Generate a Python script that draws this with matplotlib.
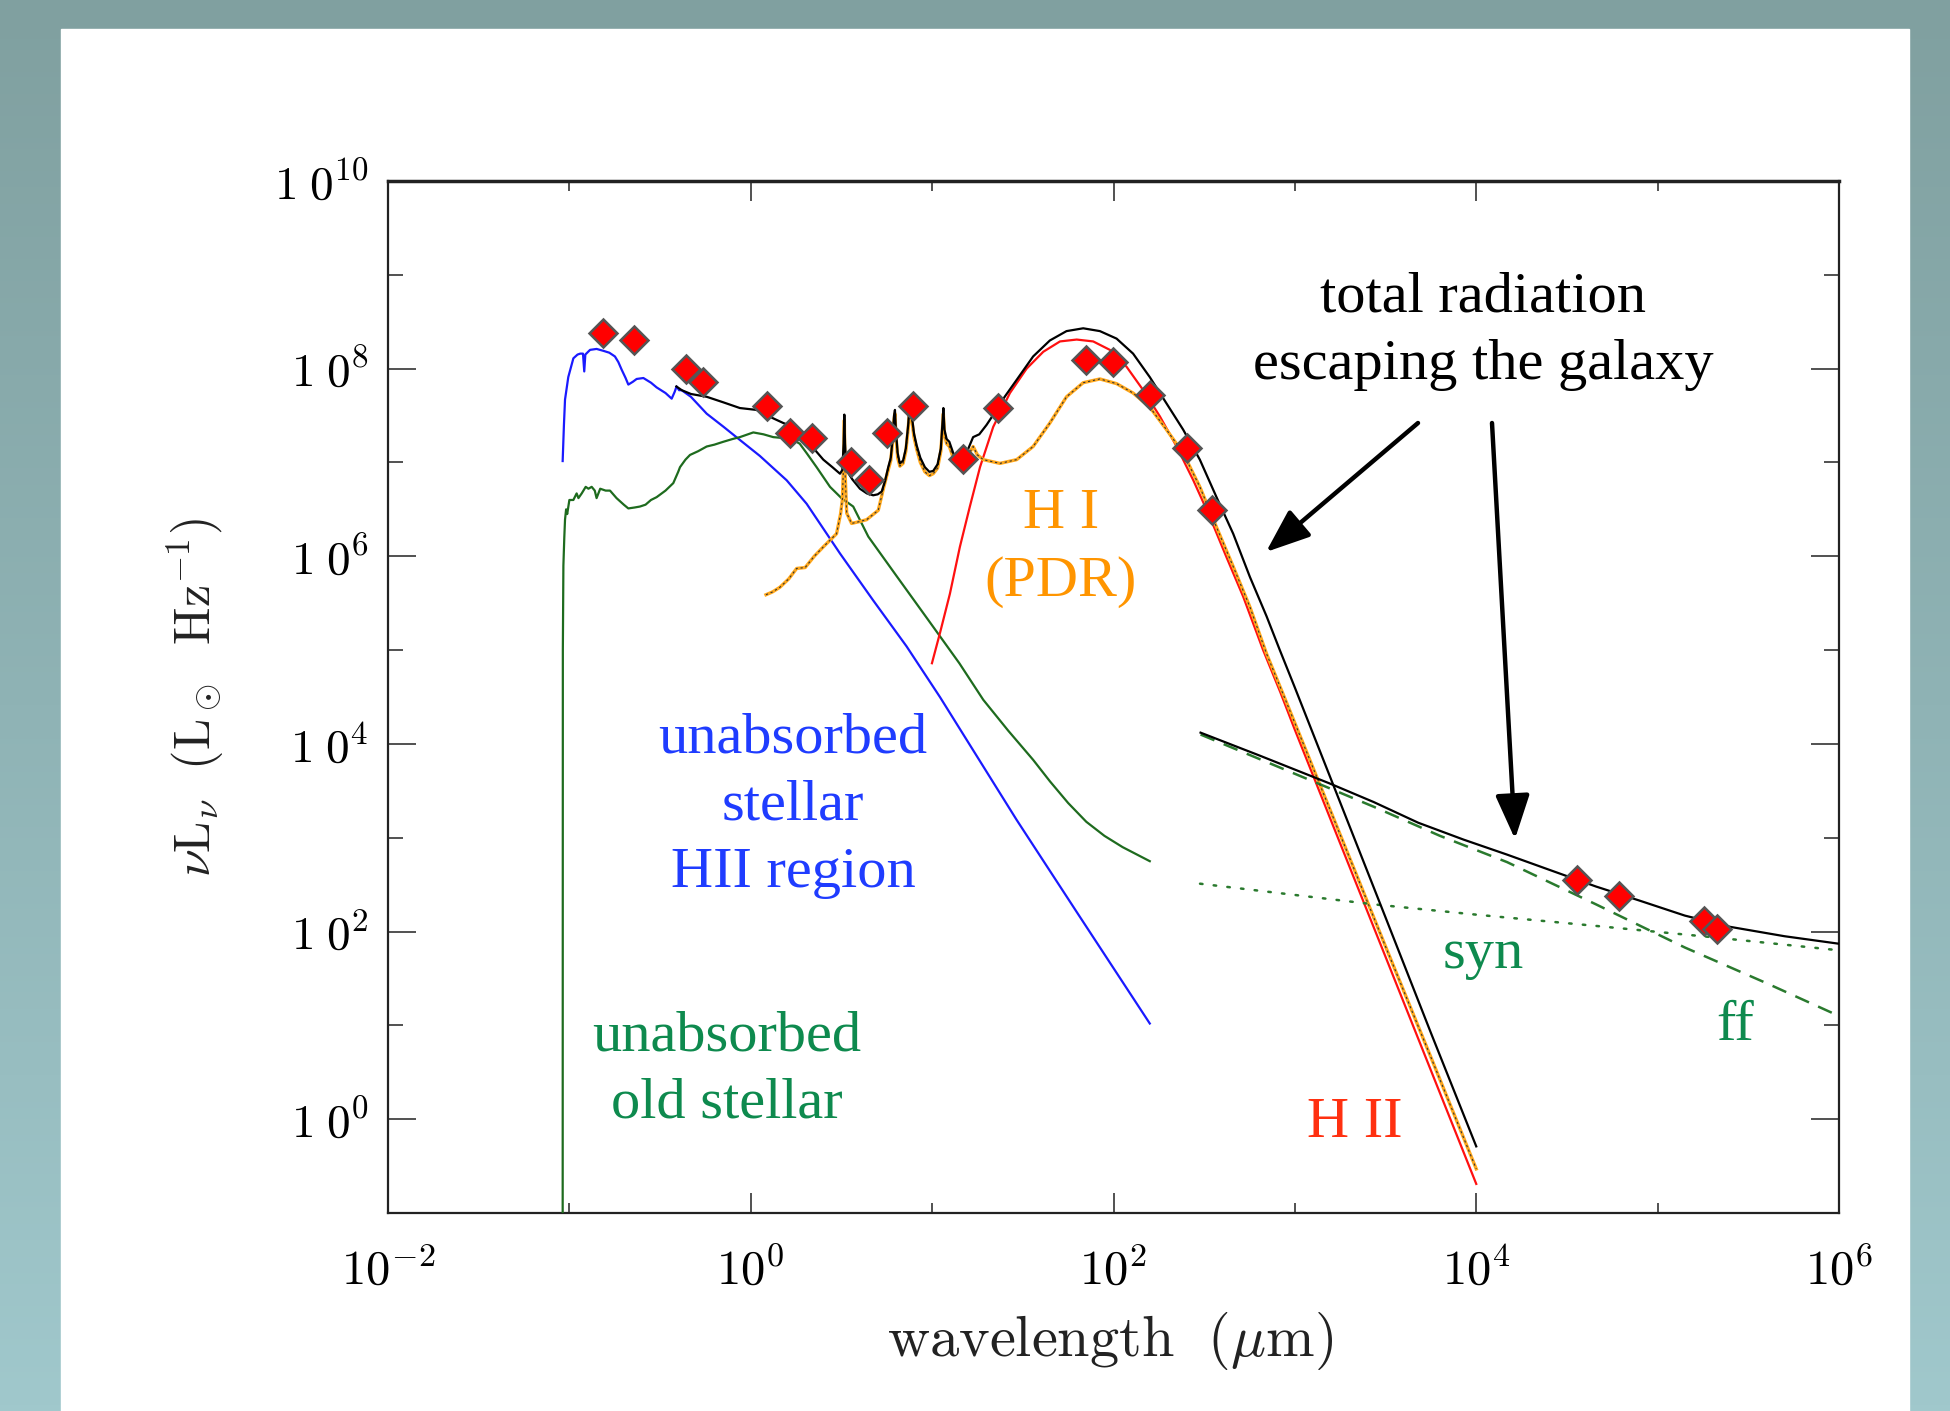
import numpy as np
import matplotlib
matplotlib.use("Agg")
import matplotlib.pyplot as plt
from matplotlib.ticker import FixedLocator, FuncFormatter, NullFormatter
from matplotlib.patches import Rectangle
from matplotlib.colors import LinearSegmentedColormap

plt.rcParams["mathtext.fontset"] = "cm"

# ---------------- data: log10(wavelength / micron), log10(nu L_nu / Lsun Hz^-1)
blue_loglam = [-1.037, -1.030, -1.024, -1.006, -0.978, -0.955, -0.940, -0.925, -0.918, -0.912,
               -0.886, -0.850, -0.813, -0.780, -0.749, -0.730, -0.712, -0.690, -0.675, -0.650,
               -0.629, -0.592, -0.550, -0.519, -0.470, -0.436, -0.420, -0.409, -0.395, -0.381,
               -0.330, -0.243, -0.150, -0.060, 0.050, 0.198, 0.308, 0.492, 0.675, 0.859,
               1.043, 1.466, 1.800, 2.200]
blue_logL = [7.015, 7.40, 7.67, 7.91, 8.11, 8.15, 8.16, 8.16, 7.97, 8.15,
             8.20, 8.21, 8.19, 8.17, 8.13, 8.07, 7.99, 7.90, 7.83, 7.86,
             7.89, 7.90, 7.85, 7.80, 7.74, 7.68, 7.75, 7.81, 7.77, 7.77,
             7.70, 7.52, 7.38, 7.24, 7.07, 6.81, 6.56, 6.03, 5.53, 5.04,
             4.50, 3.19, 2.20, 1.02]

green_loglam = [-1.037, -1.036, -1.033, -1.028, -1.024, -1.018, -1.012, -1.000, -0.978, -0.960,
                -0.950, -0.932, -0.910, -0.895, -0.877, -0.860, -0.850, -0.830, -0.800, -0.776,
                -0.740, -0.700, -0.675, -0.640, -0.611, -0.580, -0.550, -0.519, -0.470, -0.427,
                -0.400, -0.390, -0.360, -0.335, -0.290, -0.243, -0.200, -0.152, -0.100, -0.060,
                0.014, 0.070, 0.124, 0.180, 0.234, 0.270, 0.308, 0.363, 0.437, 0.500,
                0.565, 0.648, 0.800, 0.979, 1.150, 1.282, 1.420, 1.557, 1.650, 1.750,
                1.850, 1.950, 2.050, 2.200]
green_logL = [-1.50, 5.00, 5.90, 6.20, 6.39, 6.50, 6.45, 6.60, 6.60, 6.67,
              6.62, 6.67, 6.74, 6.72, 6.74, 6.70, 6.62, 6.72, 6.70, 6.70,
              6.62, 6.55, 6.51, 6.52, 6.53, 6.55, 6.60, 6.63, 6.70, 6.78,
              6.90, 6.95, 7.03, 7.08, 7.12, 7.17, 7.19, 7.22, 7.25, 7.27,
              7.32, 7.30, 7.27, 7.26, 7.24, 7.20, 7.10, 6.95, 6.74, 6.62,
              6.53, 6.21, 5.80, 5.32, 4.86, 4.47, 4.14, 3.83, 3.60, 3.37,
              3.17, 3.02, 2.90, 2.75]

hi_loglam = [0.084, 0.120, 0.161, 0.210, 0.253, 0.300, 0.350, 0.400, 0.473, 0.495,
             0.505, 0.512, 0.516, 0.520, 0.529, 0.556, 0.600, 0.639, 0.703, 0.730,
             0.758, 0.772, 0.782, 0.790, 0.795, 0.800, 0.810, 0.822, 0.840, 0.855,
             0.868, 0.878, 0.888, 0.900, 0.915, 0.935, 0.960, 0.985, 1.006, 1.030,
             1.048, 1.058, 1.062, 1.068, 1.080, 1.095, 1.120, 1.153, 1.171, 1.200,
             1.226, 1.250, 1.282, 1.374, 1.466, 1.557, 1.649, 1.741, 1.833, 1.925,
             2.017, 2.108, 2.200, 2.292, 2.384, 2.476, 2.568, 2.660, 2.752, 2.844,
             2.950, 3.200, 3.500, 3.750, 4.000]
hi_logL = [5.59, 5.62, 5.67, 5.76, 5.87, 5.88, 6.00, 6.10, 6.24, 6.45,
           6.60, 7.00, 7.45, 6.90, 6.46, 6.35, 6.37, 6.39, 6.49, 6.71,
           6.92, 7.02, 7.22, 7.46, 7.52, 7.30, 7.05, 6.96, 6.99, 7.12,
           7.36, 7.62, 7.45, 7.27, 7.14, 7.00, 6.90, 6.86, 6.88, 6.94,
           7.12, 7.40, 7.52, 7.30, 7.20, 7.17, 7.03, 6.97, 7.00, 7.08,
           7.17, 7.08, 7.03, 6.99, 7.03, 7.17, 7.42, 7.70, 7.85, 7.89,
           7.84, 7.74, 7.59, 7.35, 7.10, 6.74, 6.31, 5.89, 5.46, 4.96,
           4.46, 3.27, 1.84, 0.66, -0.53]

hii_loglam = [0.999, 1.043, 1.098, 1.153, 1.208, 1.264, 1.337, 1.429, 1.521, 1.613,
              1.705, 1.797, 1.888, 1.980, 2.072, 2.164, 2.256, 2.348, 2.440, 2.531,
              2.623, 2.715, 2.825, 2.920, 3.000, 3.200, 3.500, 3.750, 4.000]
hii_logL = [4.86, 5.18, 5.60, 6.10, 6.53, 6.95, 7.38, 7.74, 8.00, 8.18,
            8.29, 8.31, 8.29, 8.20, 8.02, 7.77, 7.49, 7.17, 6.81, 6.42,
            5.99, 5.57, 5.00, 4.55, 4.15, 3.18, 1.73, 0.52, -0.69]

total_loglam = [-0.410, -0.380, -0.330, -0.243, -0.150, -0.060, 0.032, 0.124, 0.180, 0.234,
                0.270, 0.308, 0.360, 0.400, 0.450, 0.492, 0.505, 0.512, 0.516, 0.520,
                0.527, 0.560, 0.602, 0.640, 0.675, 0.700, 0.722, 0.740, 0.758, 0.772,
                0.782, 0.790, 0.795, 0.800, 0.810, 0.822, 0.840, 0.855, 0.868, 0.878,
                0.888, 0.900, 0.915, 0.935, 0.960, 0.985, 1.006, 1.030, 1.048, 1.058,
                1.062, 1.068, 1.080, 1.095, 1.120, 1.153, 1.180, 1.200, 1.226, 1.260,
                1.300, 1.355, 1.400, 1.466, 1.557, 1.649, 1.741, 1.833, 1.925, 2.017,
                2.108, 2.200, 2.292, 2.384, 2.476, 2.568, 2.660, 2.752, 2.844, 2.917,
                3.000, 3.200, 3.500, 3.750, 4.000]
total_logL = [7.81, 7.77, 7.73, 7.70, 7.64, 7.58, 7.56, 7.47, 7.42, 7.38,
              7.33, 7.26, 7.12, 7.03, 6.95, 6.88, 6.92, 7.20, 7.51, 7.20,
              6.92, 6.82, 6.72, 6.67, 6.65, 6.66, 6.69, 6.80, 6.95, 7.05,
              7.25, 7.50, 7.56, 7.35, 7.10, 6.99, 7.02, 7.15, 7.40, 7.67,
              7.50, 7.31, 7.18, 7.05, 6.95, 6.90, 6.91, 6.98, 7.15, 7.45,
              7.58, 7.35, 7.25, 7.22, 7.08, 7.01, 7.06, 7.15, 7.27, 7.30,
              7.40, 7.56, 7.70, 7.88, 8.13, 8.30, 8.40, 8.43, 8.40, 8.32,
              8.16, 7.91, 7.63, 7.35, 7.03, 6.63, 6.24, 5.78, 5.36, 5.00,
              4.60, 3.62, 2.15, 0.92, -0.29]

radio_loglam = [2.48, 2.80, 3.19, 3.435, 3.68, 3.93, 4.17, 4.40, 4.66, 4.90, 5.15, 5.40, 5.70, 6.00]
radio_logL = [4.12, 3.88, 3.58, 3.38, 3.16, 2.98, 2.82, 2.66, 2.48, 2.33, 2.17, 2.05, 1.95, 1.87]

ff_loglam = [2.48, 2.94, 3.435, 3.80, 4.17, 4.66, 5.15, 5.60, 6.00]
ff_logL = [4.10, 3.73, 3.33, 3.02, 2.74, 2.29, 1.83, 1.45, 1.10]

syn_loglam = [2.477, 3.00, 3.435, 4.00, 4.66, 5.30, 6.00]
syn_logL = [2.51, 2.39, 2.29, 2.18, 2.06, 1.94, 1.80]

obs_loglam = [-0.816, -0.642, -0.359, -0.262, 0.088, 0.216, 0.336, 0.551, 0.653, 0.749,
              0.896, 1.171, 1.364, 1.846, 1.998, 2.200, 2.403, 2.541, 4.553, 4.786,
              5.253, 5.327]
obs_logL = [8.38, 8.30, 8.00, 7.86, 7.60, 7.31, 7.26, 7.01, 6.81, 7.31,
            7.60, 7.04, 7.58, 8.09, 8.07, 7.72, 7.15, 6.49, 2.55, 2.38,
            2.11, 2.03]

x_major = [-2, 0, 2, 4, 6]
x_minor = [-1, 1, 3, 5]
y_major = [0, 2, 4, 6, 8, 10]
y_minor = [1, 3, 5, 7, 9]


def p(a):
    return 10.0 ** np.asarray(a, dtype=float)


# ---------------- figure
W, H = 1950, 1411
DPI = 100
fig = plt.figure(figsize=(W / DPI, H / DPI), dpi=DPI)


def fx(x):
    return x / W


def fy(y):
    return 1 - y / H


bg = fig.add_axes([0, 0, 1, 1], zorder=-10)
grad = np.linspace(0, 1, 256)[:, None]
cmap = LinearSegmentedColormap.from_list("bg", ["#80a0a0", "#8fb3b5", "#a0c8cc"])
bg.imshow(grad, aspect="auto", cmap=cmap, extent=[0, 1, 0, 1], origin="upper")
bg.add_patch(Rectangle((fx(61), 0), fx(1909) - fx(61), fy(29), color="white",
                       transform=bg.transAxes))
bg.set_xlim(0, 1)
bg.set_ylim(0, 1)
bg.set_axis_off()

ax = fig.add_axes([fx(388), fy(1213), fx(1839) - fx(388), fy(181) - fy(1213)])
ax.set_xscale("log")
ax.set_yscale("log")
ax.set_xlim(1e-2, 1e6)
ax.set_ylim(1e-1, 1e10)

blue_c = "#1a1aff"
green_c = "#1e6b1e"
gdash_c = "#2a7a2e"

ax.plot(p(blue_loglam), p(blue_logL), color=blue_c, lw=1.6, zorder=3)
ax.plot(p(green_loglam), p(green_logL), color=green_c, lw=1.6, zorder=3)
ax.plot(p(hii_loglam), p(hii_logL), color="#ff1010", lw=1.6, zorder=4)
ax.plot(p(hi_loglam), p(hi_logL), color="#ffa81c", lw=2.4, zorder=4)
ax.plot(p(hi_loglam), p(hi_logL), color="#333333", lw=0.8, dashes=(2, 2.5), zorder=4.5)
ax.plot(p(total_loglam), p(total_logL), color="black", lw=1.6, zorder=5)
ax.plot(p(ff_loglam), p(ff_logL), color=gdash_c, lw=1.8, dashes=(6, 4), zorder=4)
ax.plot(p(syn_loglam), p(syn_logL), color=gdash_c, lw=1.8, dashes=(1, 4.5),
        dash_capstyle="round", zorder=4)
ax.plot(p(radio_loglam), p(radio_logL), color="black", lw=1.6, zorder=5)
ax.plot(p(obs_loglam), p(obs_logL), linestyle="none", marker="D", ms=14,
        markerfacecolor="#ff0000", markeredgecolor="#555555", markeredgewidth=1.8, zorder=6)

# ticks
ax.xaxis.set_major_locator(FixedLocator(p(x_major)))
ax.xaxis.set_minor_locator(FixedLocator(p(x_minor)))
ax.yaxis.set_major_locator(FixedLocator(p(y_major)))
ax.yaxis.set_minor_locator(FixedLocator(p(y_minor)))
ax.xaxis.set_major_formatter(FuncFormatter(lambda v, pos: r"$10^{%d}$" % round(np.log10(v))))
ax.yaxis.set_major_formatter(FuncFormatter(lambda v, pos: r"$1\;0^{%d}$" % round(np.log10(v))))
ax.xaxis.set_minor_formatter(NullFormatter())
ax.yaxis.set_minor_formatter(NullFormatter())
ax.tick_params(axis="both", which="both", direction="in", top=True, right=True,
               color="#333333", width=1.2)
ax.tick_params(axis="x", which="major", length=14.5, pad=24, labelsize=35)
ax.tick_params(axis="x", which="minor", length=7.5)
ax.tick_params(axis="y", which="major", length=20, pad=14, labelsize=34)
ax.tick_params(axis="y", which="minor", length=11)
for s in ax.spines.values():
    s.set_linewidth(1.6)
    s.set_color("#222222")
ax.spines["top"].set_linewidth(2.5)

# axis labels
fig.text(fx(1110), fy(1341), r"$\mathrm{wavelength}\ \ (\mu\mathrm{m})$", fontsize=42,
         ha="center", va="center", color="#222222")
fig.text(fx(196), fy(697), r"$\nu\mathrm{L}_\nu\ \ (\mathrm{L}_\odot\ \ \mathrm{Hz}^{-1})$",
         fontsize=36, ha="center", va="center", rotation=90, color="#222222")

# annotations
serif = "Liberation Serif"
TS = 42
LS = 1.38
fig.text(fx(793), fy(806), "unabsorbed\nstellar\nHII region", color="#1f3cff",
         fontsize=TS, family=serif, ha="center", va="center", linespacing=LS)
fig.text(fx(727), fy(1070), "unabsorbed\nold stellar", color="#0e8a4e",
         fontsize=TS, family=serif, ha="center", va="center", linespacing=LS)
fig.text(fx(1061), fy(548), "H I\n(PDR)", color="#ff9500",
         fontsize=TS, family=serif, ha="center", va="center", linespacing=LS)
fig.text(fx(1355), fy(1123), "H II", color="#ff3010",
         fontsize=TS, family=serif, ha="center", va="center")
fig.text(fx(1483), fy(954), "syn", color="#0e8a4e",
         fontsize=TS, family=serif, ha="center", va="center")
fig.text(fx(1735), fy(1026), "ff", color="#0e8a4e",
         fontsize=TS, family=serif, ha="center", va="center")
fig.text(fx(1483), fy(331), "total radiation\nescaping the galaxy", color="black",
         fontsize=TS, family=serif, ha="center", va="center", linespacing=LS)

arrow_kw = dict(arrowstyle="-|>,head_length=0.9,head_width=0.35", lw=3.2, color="black",
                mutation_scale=30, shrinkA=0, shrinkB=0)
ax.annotate("", xy=(fx(1266), fy(552)), xytext=(fx(1418), fy(423)),
            xycoords="figure fraction", textcoords="figure fraction", arrowprops=arrow_kw)
ax.annotate("", xy=(fx(1515), fy(839)), xytext=(fx(1492), fy(423)),
            xycoords="figure fraction", textcoords="figure fraction", arrowprops=arrow_kw)

fig.savefig("out.png", dpi=DPI)
